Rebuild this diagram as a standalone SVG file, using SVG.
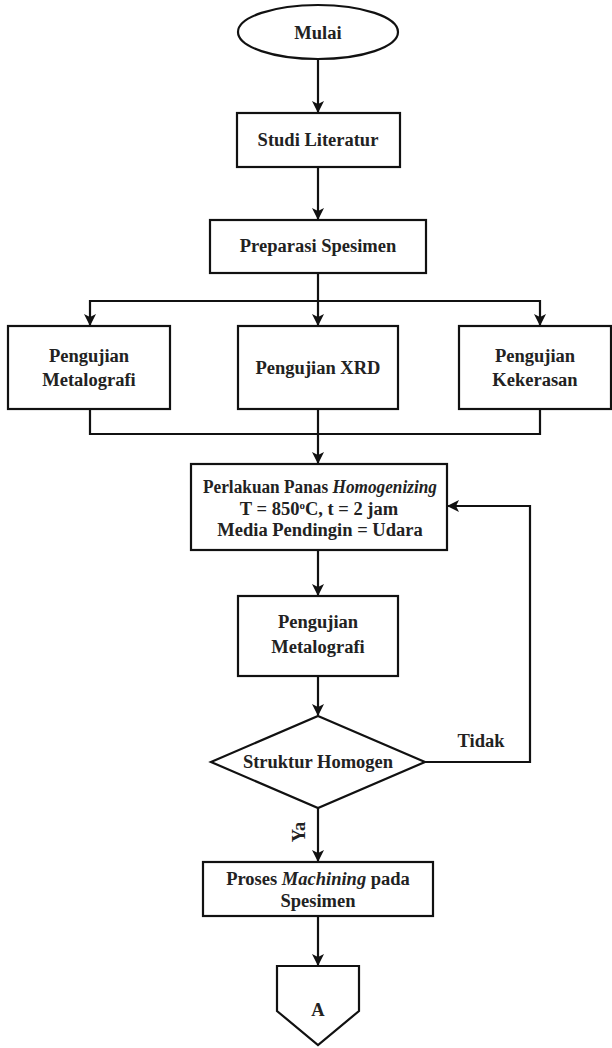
<svg xmlns="http://www.w3.org/2000/svg" width="612" height="1048" viewBox="0 0 612 1048">
<style>
.s{fill:#fff;stroke:#111;stroke-width:2.2}
.c{fill:none;stroke:#111;stroke-width:2.2}
text{font-family:"Liberation Serif","DejaVu Serif",serif;font-weight:bold;font-size:18.5px;fill:#222;text-anchor:middle}
.i{font-style:italic}
</style>
<defs>
<marker id="a" viewBox="0 0 12 12" refX="11" refY="6" markerWidth="12" markerHeight="12" markerUnits="userSpaceOnUse" orient="auto">
<path d="M0,0 L12,6 L0,12 L3,6 Z" fill="#111"/>
</marker>
</defs>
<rect width="612" height="1048" fill="#fff"/>
<g id="connectors">
<path class="c" d="M318,59 V112" marker-end="url(#a)"/>
<path class="c" d="M318,167 V219" marker-end="url(#a)"/>
<path class="c" d="M318,273 V325" marker-end="url(#a)"/>
<path class="c" d="M318,301 H90 V325" marker-end="url(#a)"/>
<path class="c" d="M318,301 H540 V325" marker-end="url(#a)"/>
<path class="c" d="M90,409 V434 H540 V409"/>
<path class="c" d="M318,409 V463" marker-end="url(#a)"/>
<path class="c" d="M318,550 V595" marker-end="url(#a)"/>
<path class="c" d="M318,676 V715" marker-end="url(#a)"/>
<path class="c" d="M425,762 H530 V506 H448" marker-end="url(#a)"/>
<path class="c" d="M318,808 V861" marker-end="url(#a)"/>
<path class="c" d="M318,916 V965" marker-end="url(#a)"/>
<text x="481" y="747" font-family="Liberation Serif, serif">Tidak</text>
<text transform="translate(305,832) rotate(-90)" font-family="Liberation Serif, serif">Ya</text>
</g>
<g id="mulai"><ellipse class="s" cx="318" cy="32" rx="80" ry="27"/><text x="318" y="39" font-family="Liberation Serif, serif">Mulai</text></g>
<g id="studi"><rect class="s" x="237" y="113" width="163" height="54"/><text x="318" y="146" font-family="Liberation Serif, serif">Studi Literatur</text></g>
<g id="preparasi"><rect class="s" x="210" y="220" width="216" height="53"/><text x="318" y="252" font-family="Liberation Serif, serif">Preparasi Spesimen</text></g>
<g id="metalografi1"><rect class="s" x="8" y="326" width="162" height="83"/><text x="89" y="362" font-family="Liberation Serif, serif">Pengujian</text><text x="89" y="386" font-family="Liberation Serif, serif">Metalografi</text></g>
<g id="xrd"><rect class="s" x="238" y="326" width="160" height="83"/><text x="318" y="374" font-family="Liberation Serif, serif">Pengujian XRD</text></g>
<g id="kekerasan"><rect class="s" x="459" y="326" width="152" height="83"/><text x="535" y="362" font-family="Liberation Serif, serif">Pengujian</text><text x="535" y="386" font-family="Liberation Serif, serif">Kekerasan</text></g>
<g id="perlakuan"><rect class="s" x="191" y="464" width="256" height="86"/>
<text x="320" y="493" font-family="Liberation Serif, serif" font-size="15.5" textLength="234" lengthAdjust="spacingAndGlyphs">Perlakuan Panas <tspan class="i">Homogenizing</tspan></text>
<text x="319" y="515" font-family="Liberation Serif, serif" font-size="16.5">T = 850<tspan font-size="11" dy="-6">o</tspan><tspan dy="6">C, t = 2 jam</tspan></text>
<text x="320" y="536" font-family="Liberation Serif, serif" font-size="17">Media Pendingin = Udara</text></g>
<g id="metalografi2"><rect class="s" x="238" y="596" width="160" height="80"/><text x="318" y="628" font-family="Liberation Serif, serif">Pengujian</text><text x="318" y="653" font-family="Liberation Serif, serif">Metalografi</text></g>
<g id="struktur"><polygon class="s" points="318,716 425,762 318,808 211,762"/><text x="318" y="768" font-family="Liberation Serif, serif">Struktur Homogen</text></g>
<g id="proses"><rect class="s" x="203" y="862" width="230" height="54"/><text x="318" y="885" font-family="Liberation Serif, serif">Proses <tspan class="i">Machining</tspan> pada</text><text x="318" y="907" font-family="Liberation Serif, serif">Spesimen</text></g>
<g id="konektorA"><path class="s" d="M277,966 H359 V1011 L318,1045 L277,1011 Z"/><text x="318" y="1016" font-family="Liberation Serif, serif">A</text></g>
</svg>
